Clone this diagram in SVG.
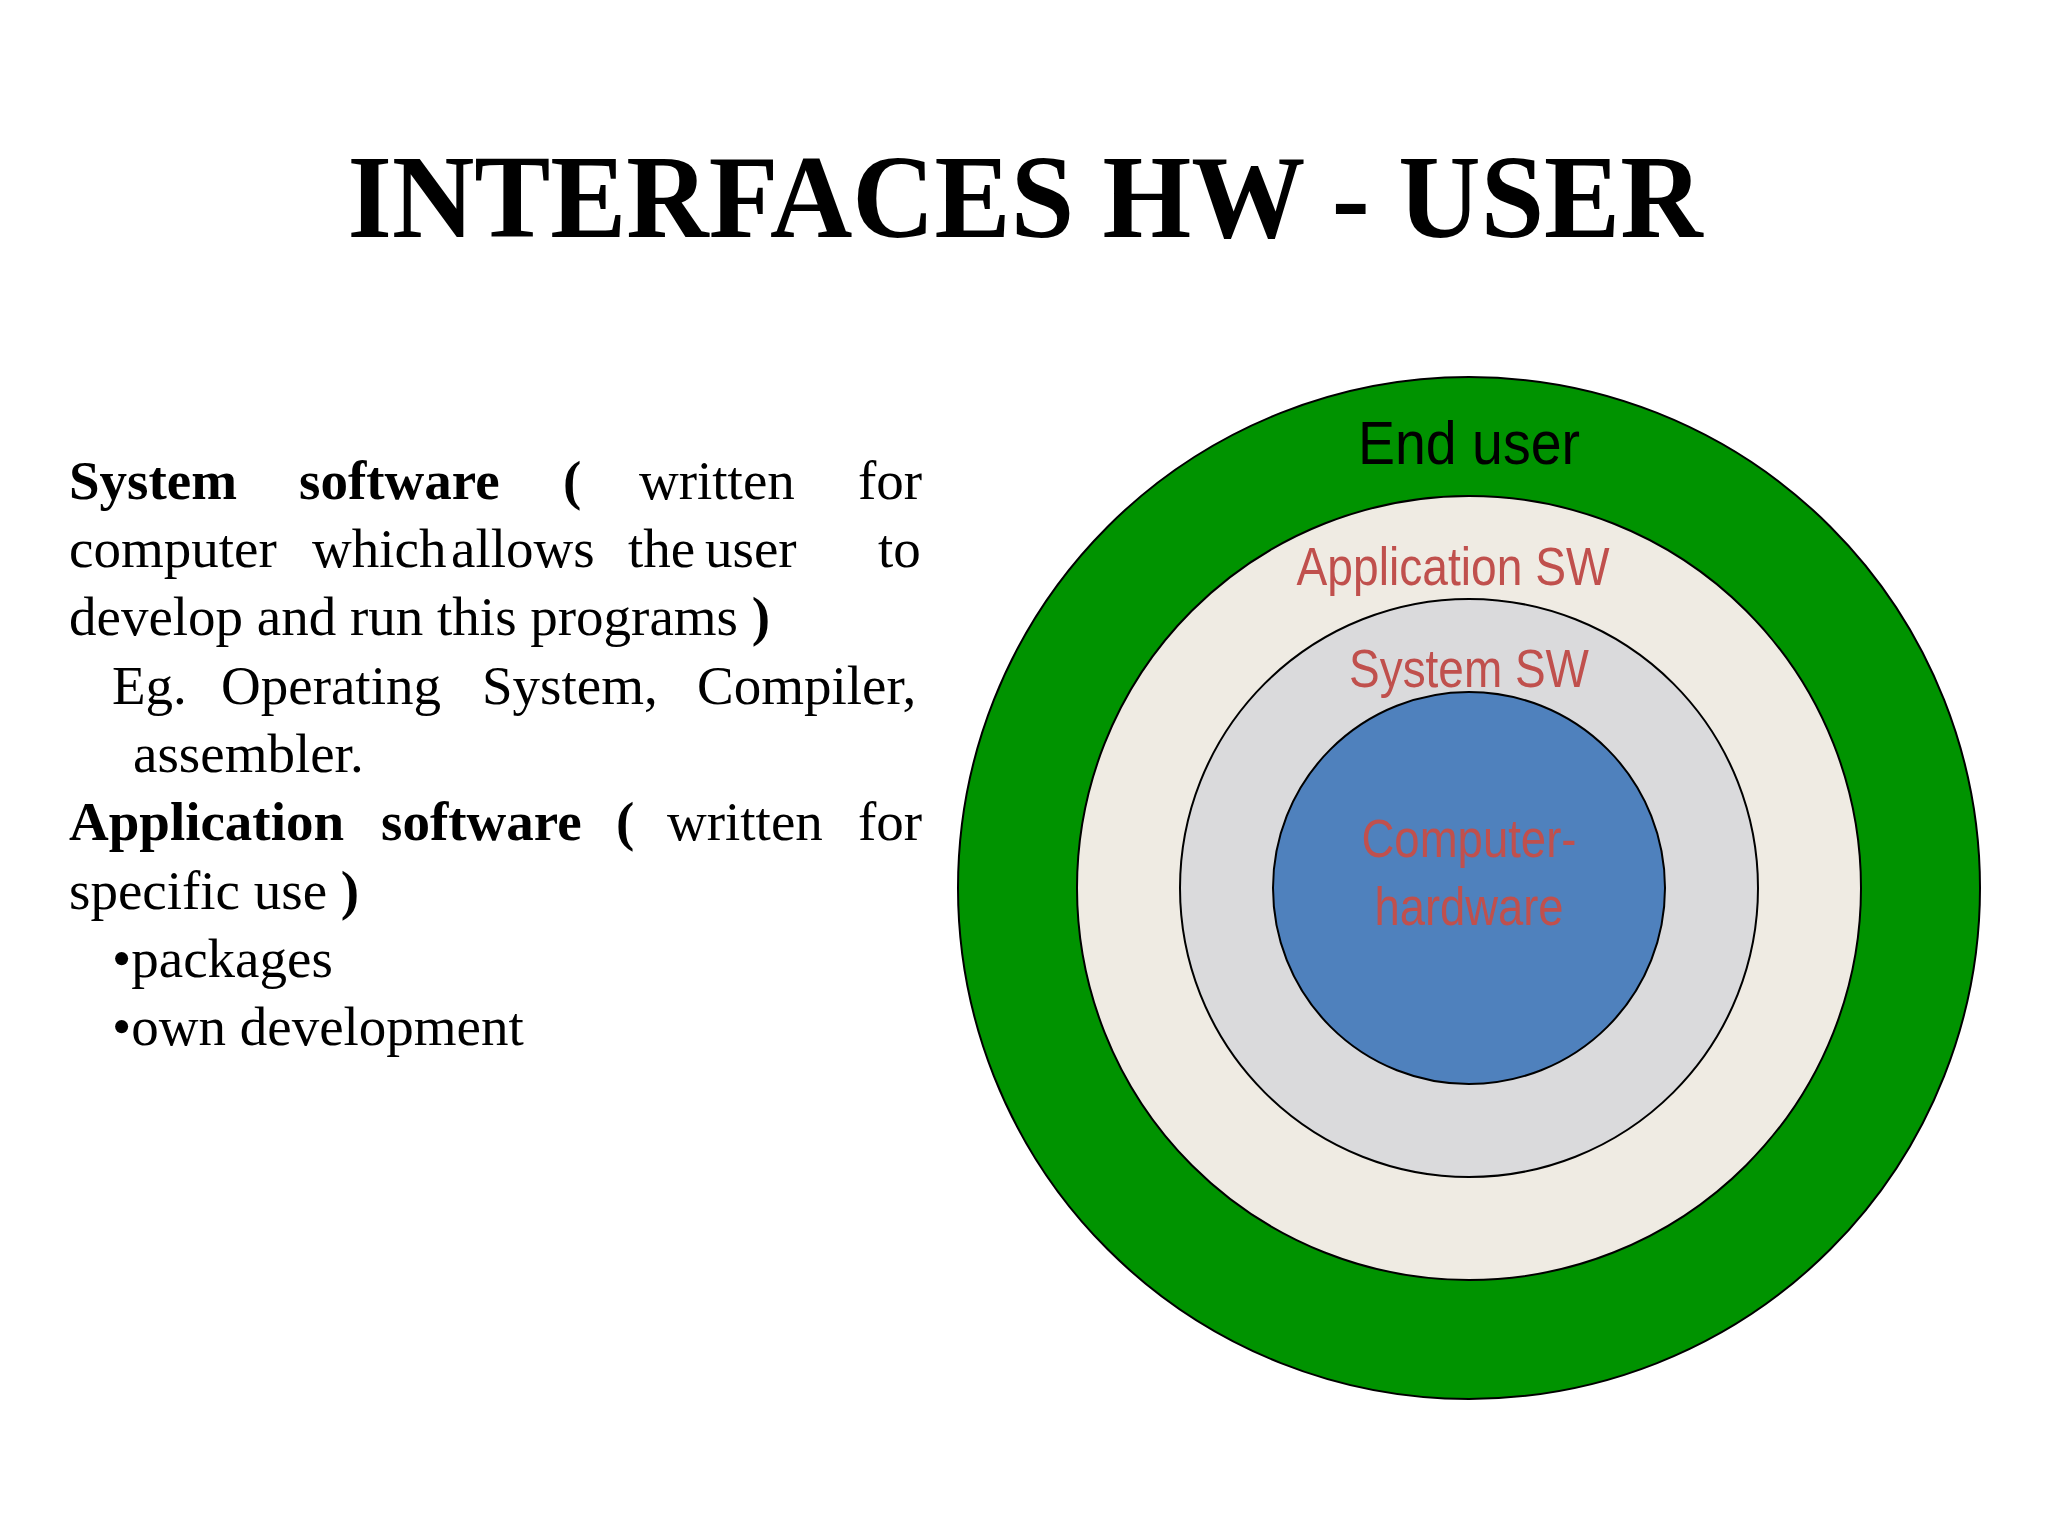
<svg xmlns="http://www.w3.org/2000/svg" width="2048" height="1536" viewBox="0 0 2048 1536">
<style>
.b{font-family:"Liberation Serif",serif;font-size:55px;fill:#000}
.bb{font-weight:bold}
.c{font-family:"Liberation Sans",Arial,sans-serif;text-anchor:middle}
.r{fill:#c0504d;font-size:54px}
circle{stroke:#000;stroke-width:2}
</style>
<rect width="2048" height="1536" fill="#fff"/>
<text id="title" x="1025" y="237" text-anchor="middle" font-family="Liberation Serif,serif" font-weight="bold" font-size="118" textLength="1355" lengthAdjust="spacingAndGlyphs">INTERFACES HW - USER</text>
<g id="left">
<text class="b" y="499"><tspan class="bb" x="69">System</tspan><tspan class="bb" x="299">software</tspan><tspan class="bb" x="563">(</tspan><tspan x="639">written</tspan><tspan x="858">for</tspan></text>
<text class="b" y="567"><tspan x="69">computer</tspan><tspan x="312">which</tspan><tspan x="451">allows</tspan><tspan x="628">the</tspan><tspan x="705">user</tspan><tspan x="878">to</tspan></text>
<text class="b" x="69" y="635">develop and run this programs <tspan class="bb">)</tspan></text>
<text class="b" y="704"><tspan x="112">Eg.</tspan><tspan x="221">Operating</tspan><tspan x="482">System,</tspan><tspan x="697">Compiler,</tspan></text>
<text class="b" x="133" y="772">assembler.</text>
<text class="b" y="840"><tspan class="bb" x="69">Application</tspan><tspan class="bb" x="381">software</tspan><tspan class="bb" x="616">(</tspan><tspan x="667">written</tspan><tspan x="858">for</tspan></text>
<text class="b" x="69" y="909">specific use <tspan class="bb">)</tspan></text>
<text class="b" x="112" y="977">•packages</text>
<text class="b" x="112" y="1045">•own development</text>
</g>
<g id="enduser"><circle cx="1469" cy="888" r="511" fill="#009300"/>
<text class="c" x="1469" y="464" font-size="62" textLength="222" lengthAdjust="spacingAndGlyphs">End user</text></g>
<g id="appsw"><circle cx="1469" cy="888" r="392" fill="#efebe3"/>
<text class="c r" x="1453" y="585" textLength="313" lengthAdjust="spacingAndGlyphs">Application  SW</text></g>
<g id="syssw"><circle cx="1469" cy="888" r="289" fill="#dadadc"/>
<text class="c r" x="1469" y="687" textLength="240" lengthAdjust="spacingAndGlyphs">System  SW</text></g>
<g id="hw"><circle cx="1469" cy="888" r="196" fill="#4f81bd"/>
<text class="c r" x="1469" y="857" textLength="215" lengthAdjust="spacingAndGlyphs">Computer-</text>
<text class="c r" x="1469" y="925" textLength="189" lengthAdjust="spacingAndGlyphs">hardware</text></g>
<g id="connectors"/>
</svg>
